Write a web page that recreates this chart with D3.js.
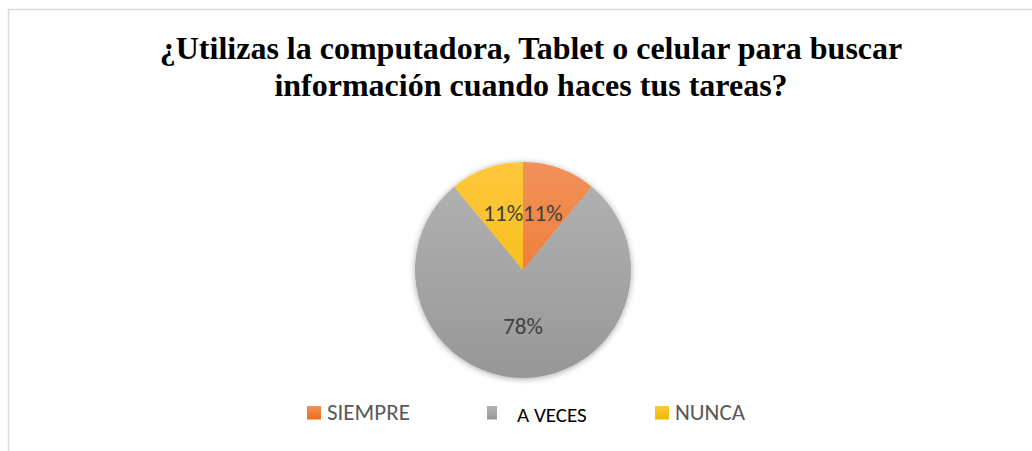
<!DOCTYPE html>
<html>
<head>
<meta charset="utf-8">
<script src="https://cdn.jsdelivr.net/npm/d3@7"></script>
<style>
  body { margin: 0; background: #fff; }
  svg { display: block; }
</style>
</head>
<body>
<div id="chart"></div>
<script>
// chart data
const titleLines = ["¿Utilizas la computadora, Tablet o celular para buscar",
                    "información cuando haces tus tareas?"];
const categories = ["SIEMPRE", "A VECES", "NUNCA"];
const values = [11, 78, 11];
const colorsTop = ["#f2915a", "#b3b3b3", "#ffc83d"];
const colorsBottom = ["#ec6e1c", "#979797", "#f0b700"];

const width = 1032, height = 451;
const cx = 523, cy = 270, radius = 108;

var svg = d3.select("#chart")
  .append("svg")
  .attr("width", width)
  .attr("height", height);

// chart frame (only left/top edges visible)
svg.append("rect")
  .attr("x", 8.5).attr("y", 9.5)
  .attr("width", 1040).attr("height", 460)
  .attr("fill", "#fff")
  .attr("stroke", "#d9d9d9")
  .attr("stroke-width", 1.5);

// title
svg.append("g").selectAll("text")
  .data(titleLines)
  .enter()
  .append("text")
  .attr("x", 531)
  .attr("y", function(d, i) { return 59 + i * 36.5; })
  .attr("text-anchor", "middle")
  .attr("font-family", "'Liberation Serif', 'Times New Roman', serif")
  .attr("font-weight", "bold")
  .attr("font-size", 32)
  .attr("fill", "#000")
  .text(function(d) { return d; });

var defs = svg.append("defs");

// vertical gradient per slice
categories.forEach(function(c, i) {
  var g = defs.append("linearGradient")
    .attr("id", "grad" + i)
    .attr("gradientUnits", "userSpaceOnUse")
    .attr("x1", 0).attr("y1", -radius)
    .attr("x2", 0).attr("y2", radius);
  g.append("stop").attr("offset", "0%").attr("stop-color", colorsTop[i]);
  g.append("stop").attr("offset", "100%").attr("stop-color", colorsBottom[i]);
});

// soft shadow round the pie
var shadow = defs.append("filter")
  .attr("id", "shadow")
  .attr("x", "-20%").attr("y", "-20%")
  .attr("width", "140%").attr("height", "140%");
shadow.append("feGaussianBlur").attr("in", "SourceAlpha").attr("stdDeviation", 3);
shadow.append("feOffset").attr("dx", 0).attr("dy", 1).attr("result", "blur");
shadow.append("feComponentTransfer").append("feFuncA").attr("type", "linear").attr("slope", 0.35);
var merge = shadow.append("feMerge");
merge.append("feMergeNode");
merge.append("feMergeNode").attr("in", "SourceGraphic");

var pie = d3.pie().sort(null).value(function(d) { return d; });
var arcs = pie(values);
var arc = d3.arc().innerRadius(0).outerRadius(radius);

var pieG = svg.append("g")
  .attr("transform", "translate(" + cx + "," + cy + ")");

pieG.append("g")
  .attr("filter", "url(#shadow)")
  .selectAll("path")
  .data(arcs)
  .enter()
  .append("path")
  .attr("d", arc)
  .attr("fill", function(d, i) { return "url(#grad" + i + ")"; });

// data labels
var labelArc = d3.arc().innerRadius(radius * 0.54).outerRadius(radius * 0.54);
var total = d3.sum(values);
pieG.selectAll("text.lbl")
  .data(arcs)
  .enter()
  .append("text")
  .attr("class", "lbl")
  .attr("transform", function(d) {
    var p = labelArc.centroid(d);
    return "translate(" + p[0] + "," + (p[1] + 6) + ")";
  })
  .attr("text-anchor", "middle")
  .attr("font-family", "Carlito, 'Open Sans', sans-serif")
  .attr("font-size", 23)
  .attr("fill", "#404040")
  .text(function(d) { return Math.round(d.value / total * 100) + "%"; });

// legend
var legendX = [307, 487, 655];
var legend = svg.append("g").selectAll("g")
  .data(categories)
  .enter()
  .append("g")
  .attr("transform", function(d, i) { return "translate(" + legendX[i] + ",406)"; });

legend.append("rect")
  .attr("width", function(d, i) { return i == 1 ? 10 : 14; })
  .attr("height", 13.5)
  .attr("fill", function(d, i) { return "url(#lgrad" + i + ")"; });

categories.forEach(function(c, i) {
  var g = defs.append("linearGradient")
    .attr("id", "lgrad" + i)
    .attr("x1", 0).attr("y1", 0).attr("x2", 0).attr("y2", 1);
  g.append("stop").attr("offset", "0%").attr("stop-color", colorsTop[i]);
  g.append("stop").attr("offset", "100%").attr("stop-color", colorsBottom[i]);
});

legend.append("text")
  .attr("x", function(d, i) { return i == 1 ? 30 : 20; })
  .attr("y", function(d, i) { return i == 1 ? 16 : 14; })
  .attr("font-family", "Carlito, 'Open Sans', sans-serif")
  .attr("font-size", function(d, i) { return i == 1 ? 21 : 23; })
  .attr("fill", function(d, i) { return i == 1 ? "#000" : "#595959"; })
  .text(function(d) { return d; });
</script>
</body>
</html>
